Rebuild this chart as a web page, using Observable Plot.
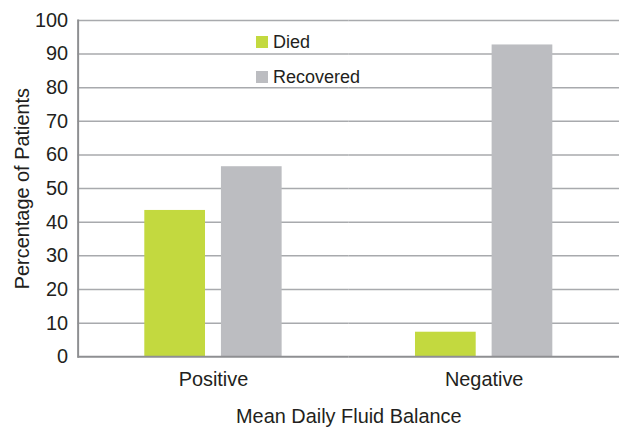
<!DOCTYPE html>
<html>
<head>
<meta charset="utf-8">
<script src="https://cdn.jsdelivr.net/npm/d3@7"></script>
<script src="https://cdn.jsdelivr.net/npm/@observablehq/plot@0.6"></script>
<style>
  html, body { margin: 0; padding: 0; background: #fff; overflow: hidden; }
  #wrap { position: relative; width: 619px; height: 430px; overflow: hidden; font-family: "Liberation Sans", Arial, sans-serif; color: #231f20; }
  .legend { position: absolute; left: 256px; font-size: 18px; line-height: 18px; display: flex; align-items: center; }
  .legend .sw { width: 12px; height: 12px; margin-right: 5px; }
</style>
</head>
<body>
<div id="wrap"></div>
<script>
const categories = ["Positive", "Negative"];
const series = ["Died", "Recovered"];
const died = [43.5, 7.3];
const recovered = [56.5, 92.7];
const yTicks = [0, 10, 20, 30, 40, 50, 60, 70, 80, 90, 100];
const colors = ["#c3d93f", "#bcbdc1"];

const rows = [];
categories.forEach((c, i) => {
  rows.push({category: c, series: series[0], value: died[i]});
  rows.push({category: c, series: series[1], value: recovered[i]});
});

const chart = Plot.plot({
  width: 622,
  height: 430,
  marginLeft: 77,
  marginRight: 0,
  marginTop: 20,
  marginBottom: 72,
  style: {fontFamily: "'Liberation Sans', Arial, sans-serif", fontSize: "20px", color: "#231f20", background: "#fff"},
  fx: {domain: categories, padding: 0, axis: "bottom", label: "Mean Daily Fluid Balance", tickSize: 0, tickPadding: 15, labelAnchor: "center", labelOffset: 67},
  x: {domain: series, paddingInner: 0.212, paddingOuter: 0.863, axis: null},
  y: {domain: [0, 100], ticks: yTicks, tickSize: 0, tickPadding: 10, label: "Percentage of Patients", labelAnchor: "center", labelOffset: 64, labelArrow: "none"},
  color: {domain: series, range: colors},
  marks: [
    Plot.ruleY(yTicks.filter(d => d > 0), {stroke: "#a8aaad", strokeWidth: 1.5}),
    Plot.barY(rows, {fx: "category", x: "series", y: "value", fill: "series"}),
    Plot.ruleY([0], {stroke: "#8e8f92", strokeWidth: 2}),
    Plot.frame({anchor: "left", facet: "super", stroke: "#8e8f92", strokeWidth: 2})
  ]
});

const wrap = document.getElementById("wrap");
wrap.appendChild(chart);

series.forEach((s, i) => {
  const el = document.createElement("div");
  el.className = "legend";
  el.style.top = (i === 0 ? 33 : 68) + "px";
  el.innerHTML = `<span class="sw" style="background:${colors[i]}"></span><span>${s}</span>`;
  wrap.appendChild(el);
});
</script>
</body>
</html>
